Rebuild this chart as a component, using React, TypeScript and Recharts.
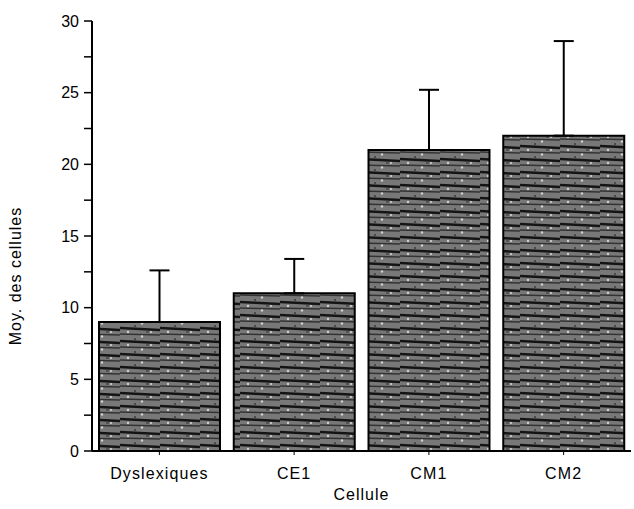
import React from "react";
import { BarChart, Bar, XAxis, YAxis, ErrorBar } from "recharts";

const categories = ["Dyslexiques", "CE1", "CM1", "CM2"];
const means = [9.0, 11.0, 21.0, 22.0];
const errorsUp = [3.6, 2.4, 4.2, 6.6];
const yTicks = [0, 2.5, 5, 7.5, 10, 12.5, 15, 17.5, 20, 22.5, 25, 27.5, 30];

const data = categories.map((c, i) => ({ name: c, value: means[i], err: [0, errorsUp[i]] }));

const FONT = "'Liberation Sans', Arial, sans-serif";

const YTick = (props: any) => {
  const { x, y, payload } = props;
  if (payload.value % 5 !== 0) return null;
  return (
    <text x={x - 3} y={y} dy={5.5} textAnchor="end" fontFamily={FONT} fontSize={16} fill="#000">
      {payload.value}
    </text>
  );
};

const XTick = (props: any) => {
  const { x, y, payload } = props;
  return (
    <text x={x} y={y} dy={22} textAnchor="middle" fontFamily={FONT} fontSize={16} letterSpacing={1.1} fill="#000">
      {payload.value}
    </text>
  );
};

export default function App() {
  return (
    <div style={{ position: "absolute", left: 0, top: 0, background: "#fff" }}>
      <BarChart
        width={634}
        height={509}
        data={data}
        margin={{ top: 21, right: 3, bottom: 0, left: 0 }}
        barCategoryGap={7}
      >
        <defs>
          <pattern id="tex" width="40" height="13" patternUnits="userSpaceOnUse">
            <rect x="0" y="0" width="40" height="13" fill="#787878" />
            <path d="M0 3 L40 5" stroke="#141414" strokeWidth="2.4" />
            <path d="M0 9 L40 10" stroke="#333" strokeWidth="1.3" />
            <circle cx="8" cy="7" r="1.2" fill="#cfcfcf" />
            <circle cx="22" cy="11.5" r="1.2" fill="#cfcfcf" />
            <circle cx="31" cy="7" r="1" fill="#d8d8d8" />
            <circle cx="15" cy="1" r="1" fill="#3a3a3a" />
            <rect x="26" y="6" width="3" height="2" fill="#555" />
          </pattern>
        </defs>
        <XAxis
          dataKey="name"
          xAxisId="bottom"
          height={58}
          tick={<XTick />}
          tickSize={4}
          tickLine={{ stroke: "#000" }}
          axisLine={{ stroke: "#000", strokeWidth: 2 }}
          interval={0}
          label={{ value: "Cellule", position: "insideBottom", offset: 9, fontFamily: FONT, fontSize: 16, letterSpacing: 1, fill: "#000" }}
        />
        <XAxis dataKey="name" xAxisId="top" orientation="top" height={0} tick={false} tickLine={false} axisLine={{ stroke: "#000", strokeWidth: 1.5 }} />
        <YAxis
          yAxisId="left"
          width={92}
          domain={[0, 30]}
          ticks={yTicks}
          interval={0}
          tick={<YTick />}
          tickSize={8}
          tickLine={{ stroke: "#000", strokeWidth: 1.5 }}
          axisLine={{ stroke: "#000", strokeWidth: 2 }}
          label={{
            value: "Moy. des cellules",
            angle: -90,
            position: "insideLeft",
            offset: 0,
            dx: 15,
            dy: 40,
            fontFamily: FONT,
            fontSize: 16,
            letterSpacing: 1,
            fill: "#000",
            style: { textAnchor: "middle" },
          }}
        />
        <YAxis yAxisId="right" orientation="right" width={0} domain={[0, 30]} tick={false} tickLine={false} axisLine={{ stroke: "#000", strokeWidth: 1.2 }} />
        <Bar
          dataKey="value"
          xAxisId="bottom"
          yAxisId="left"
          fill="url(#tex)"
          stroke="#000"
          strokeWidth={2}
          isAnimationActive={false}
        >
          <ErrorBar dataKey="err" direction="y" width={10} stroke="#000" strokeWidth={2} />
        </Bar>
      </BarChart>
    </div>
  );
}
